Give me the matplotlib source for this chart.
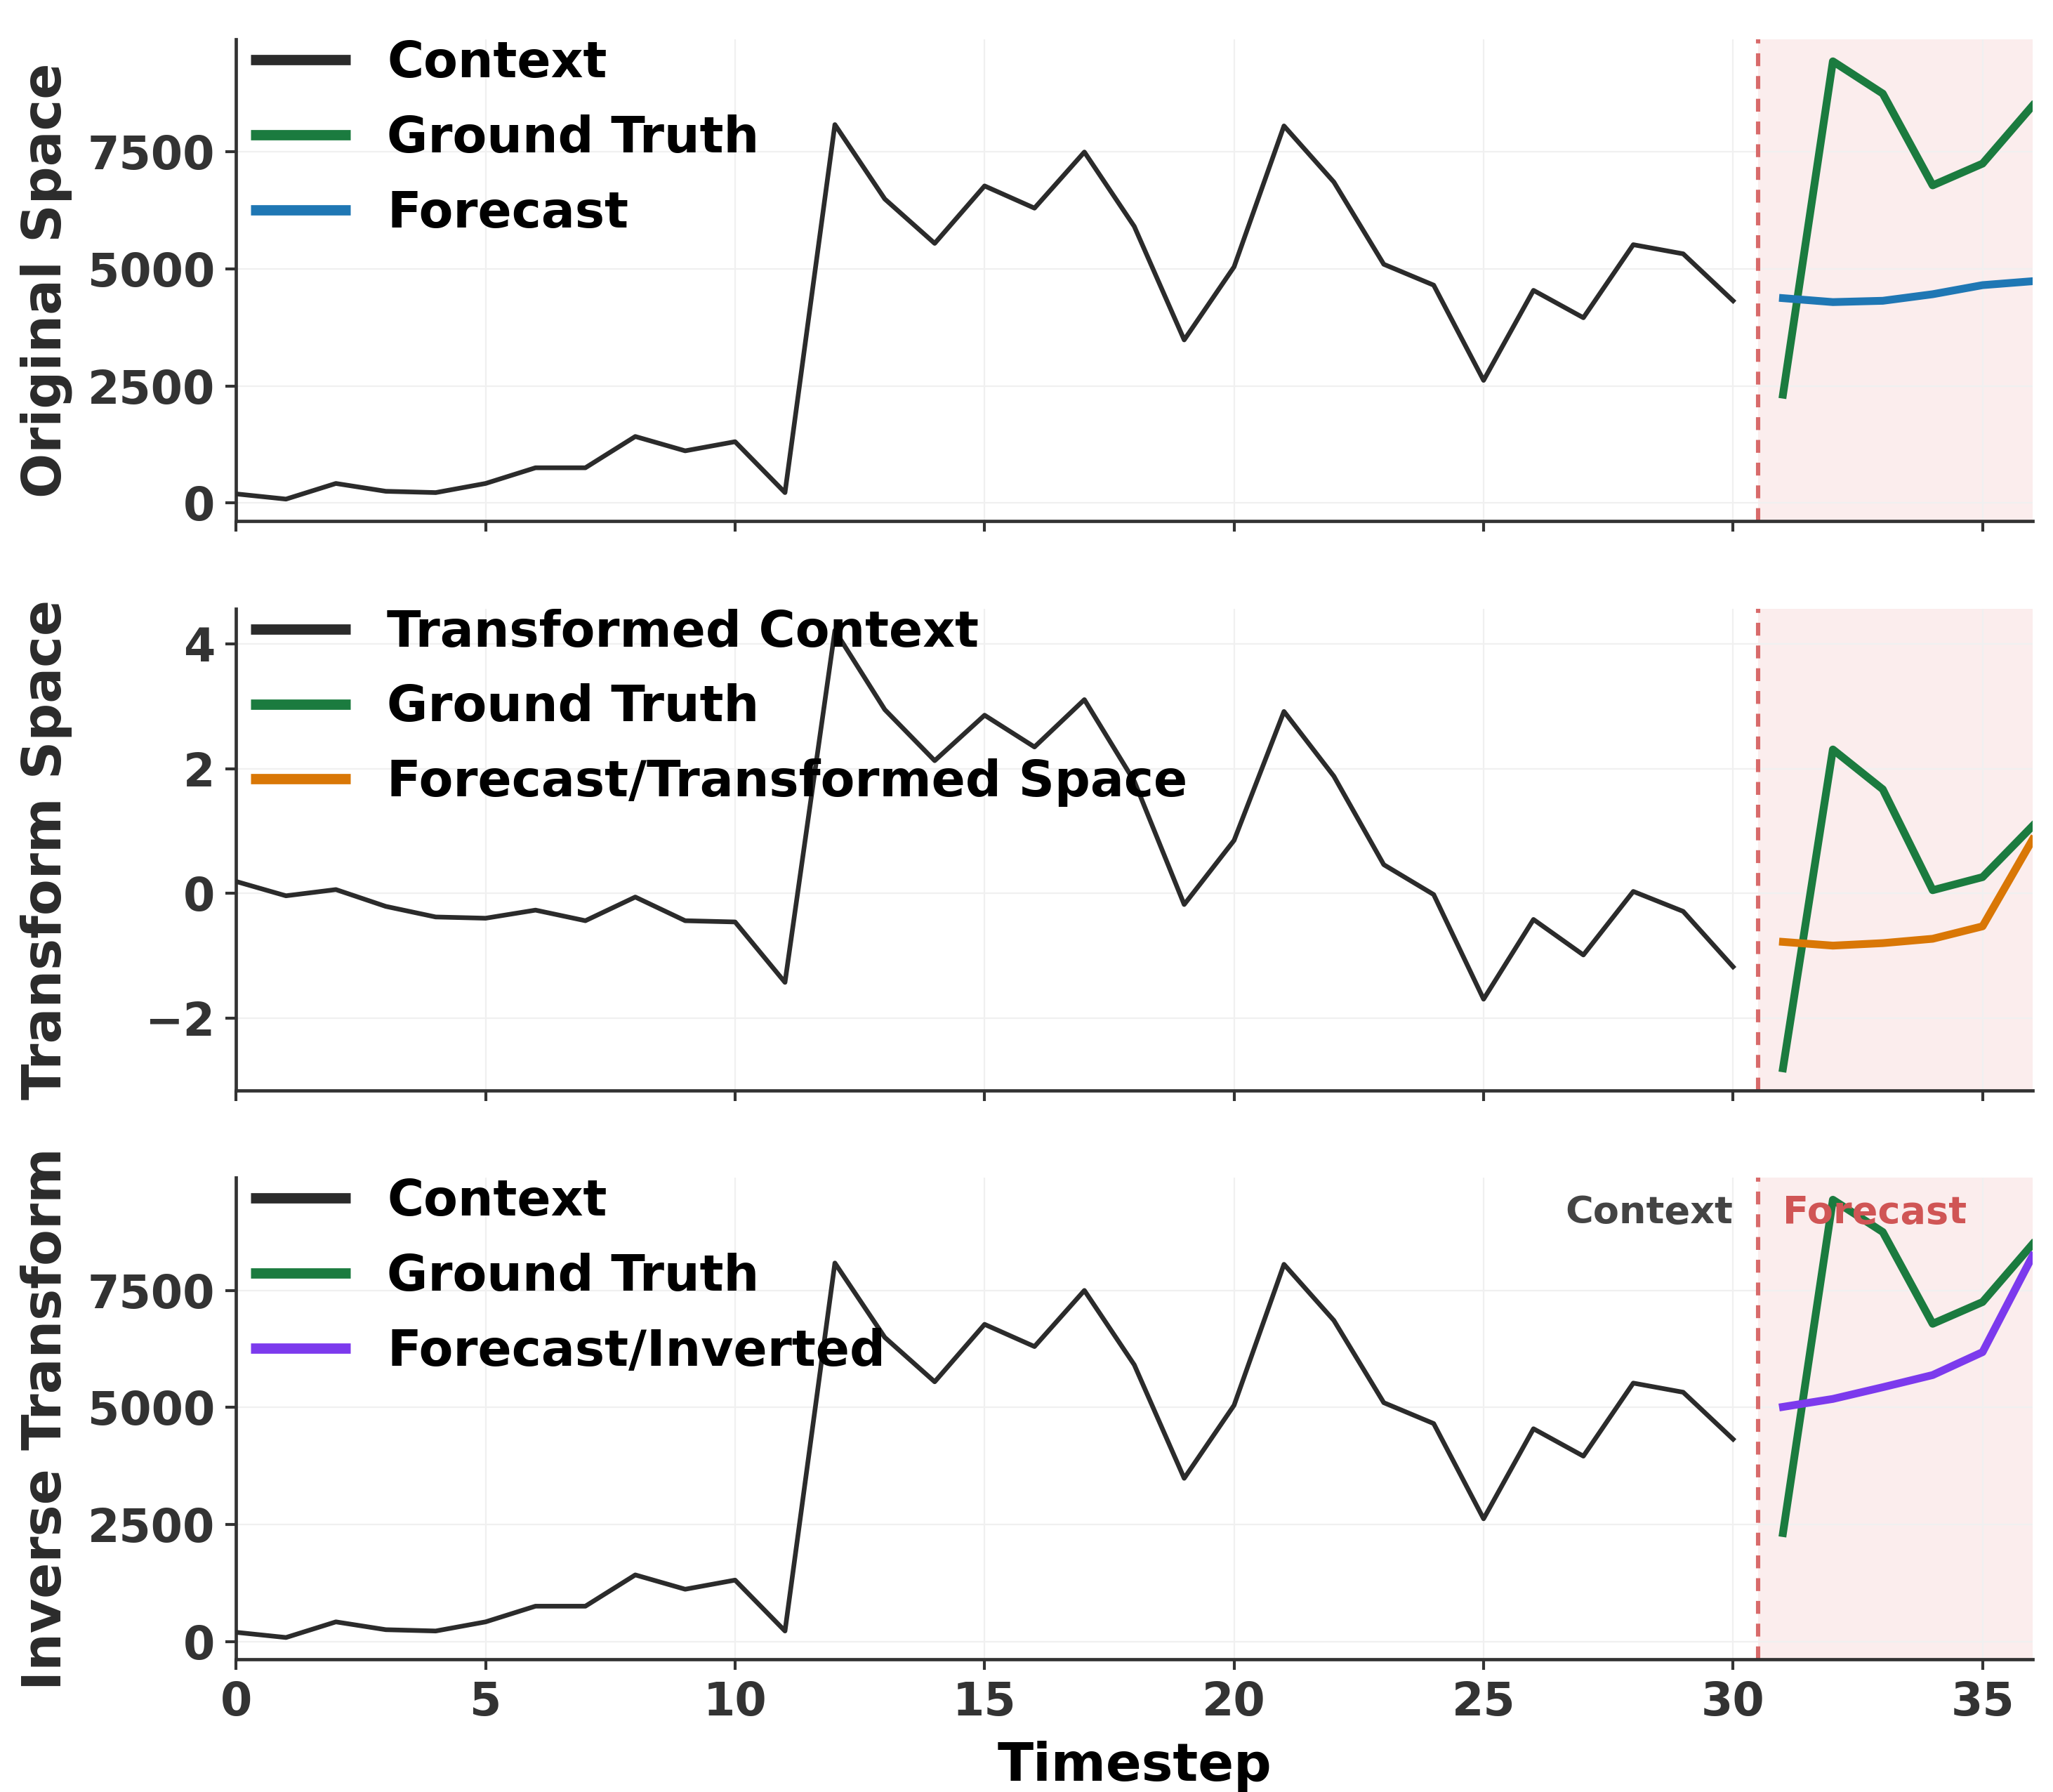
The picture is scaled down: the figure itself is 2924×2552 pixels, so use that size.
import numpy as np
import matplotlib.pyplot as plt

# series values
context = [195, 84, 418, 251, 223, 418, 753, 753, 1421, 1115, 1310, 223,
           8083, 6494, 5546, 6773, 6299, 7497, 5908, 3484, 5045, 8055, 6856,
           5100, 4654, 2620, 4543, 3958, 5518, 5323, 4320]
ground_truth = [2315, 9435, 8745, 6785, 7250, 8485]
forecast = [4376, 4292, 4320, 4460, 4654, 4738]

transformed_context = [0.19, -0.04, 0.06, -0.21, -0.38, -0.40, -0.27, -0.44,
                       -0.06, -0.44, -0.46, -1.43, 4.22, 2.95, 2.13, 2.86,
                       2.35, 3.11, 1.80, -0.18, 0.85, 2.92, 1.88, 0.46, -0.02,
                       -1.70, -0.42, -0.99, 0.03, -0.29, -1.18]
transformed_truth = [-2.81, 2.31, 1.67, 0.05, 0.26, 1.08]
forecast_transformed = [-0.78, -0.84, -0.80, -0.73, -0.53, 0.86]

forecast_inverted = [5010, 5180, 5430, 5690, 6180, 8230]

t_context = np.arange(len(context))
t_future = np.arange(len(context), len(context) + len(ground_truth))
split = len(context) - 0.5
x_end = len(context) + len(ground_truth) - 1

DARK = '#2b2b2b'
GREEN = '#1b7b3f'
BLUE = '#1f77b4'
ORANGE = '#d97706'
PURPLE = '#7c3aed'
RED = '#d86a6a'

plt.rcParams['font.family'] = 'DejaVu Sans'
plt.rcParams['font.weight'] = 'bold'

fig, axes = plt.subplots(3, 1, figsize=(14.62, 12.76), dpi=200, sharex=True)
fig.subplots_adjust(left=0.115, right=0.99, top=0.978, bottom=0.074, hspace=0.182)

panels = [
    ('Original Space', context, ground_truth, forecast, 'Context', 'Forecast', BLUE),
    ('Transform Space', transformed_context, transformed_truth, forecast_transformed,
     'Transformed Context', 'Forecast/Transformed Space', ORANGE),
    ('Inverse Transform', context, ground_truth, forecast_inverted, 'Context',
     'Forecast/Inverted', PURPLE),
]

for ax, (ylab, ctx, gt, fc, ctx_lab, fc_lab, fc_col) in zip(axes, panels):
    ax.axvspan(split, x_end + 1, color='#e05555', alpha=0.1, lw=0, zorder=0)
    ax.axvline(split, color=RED, lw=2.2, linestyle=(0, (3.0, 2.3)), zorder=1)
    ax.plot(t_context, ctx, color=DARK, lw=2.4, label=ctx_lab, zorder=3)
    ax.plot(t_future, gt, color=GREEN, lw=4.0, label='Ground Truth', zorder=3)
    ax.plot(t_future, fc, color=fc_col, lw=4.0, label=fc_lab, zorder=3)
    ax.set_xlim(0, x_end)
    ax.set_ylabel(ylab, fontsize=27.2, fontweight='bold', color='#2b2b2b', labelpad=8)
    ax.grid(True, color='#f0f0f0', lw=0.8, zorder=0)
    ax.set_axisbelow(True)
    for s in ['top', 'right']:
        ax.spines[s].set_visible(False)
    for s in ['left', 'bottom']:
        ax.spines[s].set_color('#333333')
        ax.spines[s].set_linewidth(1.7)
    ax.tick_params(axis='both', labelsize=23.5, colors='#333333', length=5.3,
                   width=1.5, pad=5.5)
    for lbl in ax.get_yticklabels() + ax.get_xticklabels():
        lbl.set_fontweight('bold')
    leg = ax.legend(loc='upper left', bbox_to_anchor=(0.0082, 1.0), frameon=False,
                    fontsize=25.6, borderaxespad=0.0, borderpad=0.0,
                    handlelength=2.0, handletextpad=0.73, labelspacing=0.53)
    for line in leg.get_lines():
        line.set_linewidth(5.3)
        line.set_solid_capstyle('butt')
    for txt in leg.get_texts():
        txt.set_fontweight('bold')

axes[0].set_yticks([0, 2500, 5000, 7500])
axes[2].set_yticks([0, 2500, 5000, 7500])
axes[1].set_yticks([-2, 0, 2, 4])

axes[2].text(split - 0.5, 0.927, 'Context', transform=axes[2].get_xaxis_transform(),
             ha='right', va='center', fontsize=19.5, fontweight='bold', color='#444444')
axes[2].text(split + 0.5, 0.927, 'Forecast', transform=axes[2].get_xaxis_transform(),
             ha='left', va='center', fontsize=19.5, fontweight='bold', color='#d05555')

axes[2].set_xlabel('Timestep', fontsize=27, fontweight='bold', labelpad=8)
for lbl in axes[2].get_xticklabels():
    lbl.set_fontweight('bold')

fig.align_ylabels(axes)
fig.savefig('out.png', dpi=200)
